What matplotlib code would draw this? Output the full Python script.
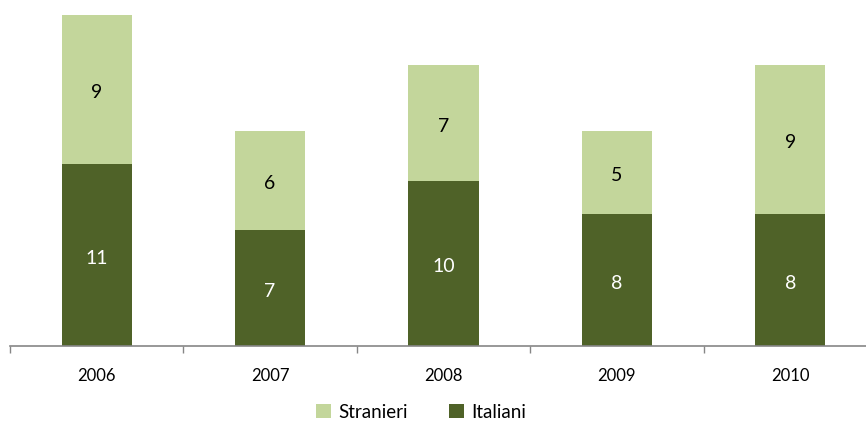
import matplotlib
matplotlib.use("Agg")
import matplotlib.pyplot as plt
from matplotlib.patches import Patch

years = ["2006", "2007", "2008", "2009", "2010"]
italiani = [11, 7, 10, 8, 8]
stranieri = [9, 6, 7, 5, 9]

dark = "#4F6228"
light = "#C3D69B"
plt.rcParams['font.family'] = ['Lato', 'DejaVu Sans']

W, H = 866, 421
fig = plt.figure(figsize=(W/100, H/100), dpi=100)
left = 10/W
right = 877/W
bottom = 1 - 346/H
top = 1 - 15/H
ax = fig.add_axes([left, bottom, right-left, top-bottom])

x = list(range(len(years)))
bw = 0.404
ax.bar(x, italiani, bw, color=dark, label="Italiani", zorder=2)
ax.bar(x, stranieri, bw, bottom=italiani, color=light, label="Stranieri", zorder=2)

for i in x:
    ax.annotate(str(italiani[i]), (i, italiani[i]/2), xytext=(0, -2.5), textcoords='offset points',
                ha='center', va='center', color='white', fontsize=14)
    ax.annotate(str(stranieri[i]), (i, italiani[i] + stranieri[i]/2), xytext=(0, -2.5), textcoords='offset points',
                ha='center', va='center', color='black', fontsize=14)

ax.set_xlim(-0.5, len(years)-0.5)
ax.set_ylim(0, 20)
for s in ['top', 'right', 'left']:
    ax.spines[s].set_visible(False)
ax.spines['bottom'].set_color('#868686')
ax.spines['bottom'].set_linewidth(1.2)
ax.set_yticks([])
ax.set_xticks([i - 0.5 for i in range(len(years)+1)])
ax.set_xticklabels([])
ax.tick_params(axis='x', direction='out', length=5, color='#868686', width=1)
ax.set_xticks(x, minor=True)
ax.set_xticklabels(years, minor=True, fontsize=12)
ax.tick_params(axis='x', which='minor', length=0, pad=16)

handles = [Patch(facecolor=light, label="Stranieri"), Patch(facecolor=dark, label="Italiani")]
fig.legend(handles=handles, loc='center', bbox_to_anchor=(421/W, 1 - 412/H), ncol=2, frameon=False,
           fontsize=13.5, handlelength=0.8, handleheight=0.8, columnspacing=2.2, handletextpad=0.4)

fig.savefig("out.png", dpi=100)
